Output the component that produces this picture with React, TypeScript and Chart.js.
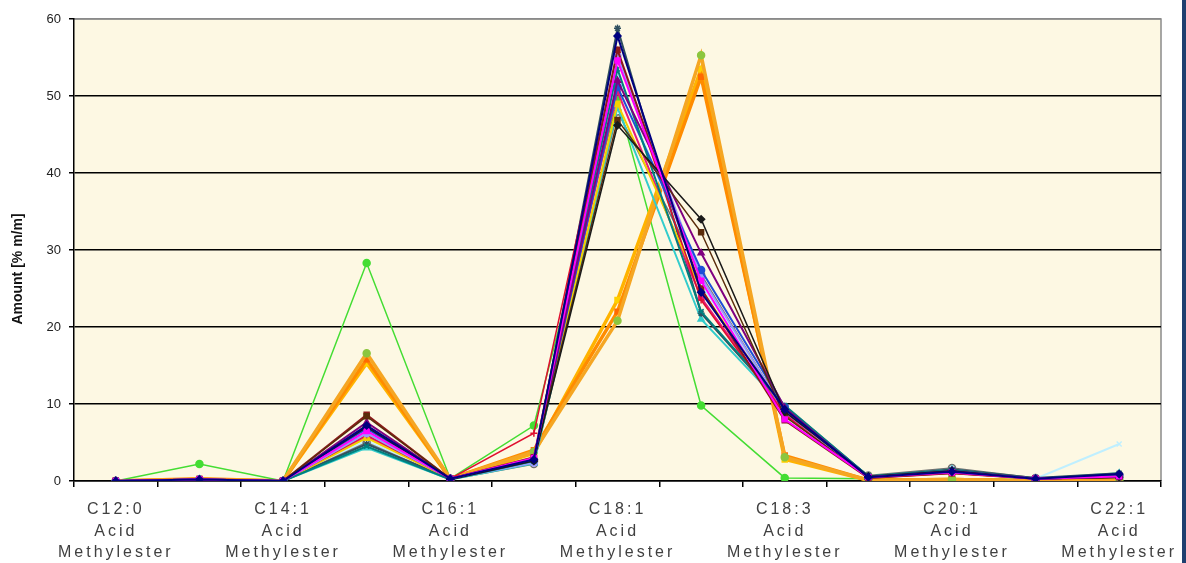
import React, { useEffect, useRef } from 'react';
import { Chart, registerables } from 'chart.js';

Chart.register(...registerables);

// ---------- data ----------
const categories = ['C12:0', 'C14:0', 'C14:1', 'C16:0', 'C16:1', 'C18:0', 'C18:1', 'C18:2', 'C18:3', 'C20:0', 'C20:1', 'C22:0', 'C22:1'];
const labelSuffix = ['Acid', 'Methylester'];
const yTicks = [0, 10, 20, 30, 40, 50, 60];
const yTitle = 'Amount [% m/m]';

const sample01 = [0, 0.2, 0, 7.2, 0.3, 2.8, 57.8, 24.5, 9.3, 0.5, 1.2, 0.3, 0.9];
const sample02 = [0, 0.2, 0, 6.5, 0.3, 3.0, 54.6, 26.0, 8.0, 0.5, 1.1, 0.3, 0.6];
const sample03 = [0, 0.1, 0, 7.0, 0.2, 2.6, 46.2, 34.0, 9.0, 0.6, 1.3, 0.3, 0.5];
const sample04 = [0, 0.1, 0, 8.4, 0.3, 3.0, 46.9, 32.3, 8.4, 0.5, 1.2, 0.3, 0.5];
const sample05 = [0, 0.2, 0, 7.6, 0.3, 2.9, 52.0, 29.6, 9.5, 0.5, 1.3, 0.3, 0.6];
const sample06 = [0, 0.2, 0, 8.6, 0.3, 3.1, 56.0, 25.0, 7.9, 0.4, 1.0, 0.3, 0.5];
const sample07 = [0, 0.2, 0, 4.5, 0.2, 2.6, 53.5, 22.0, 9.8, 0.6, 1.4, 0.3, 0.8];
const sample08 = [0, 0.2, 0, 6.8, 0.3, 2.7, 51.2, 27.4, 9.6, 0.5, 1.3, 0.3, 0.7];
const sample09 = [0, 0.2, 0, 6.2, 0.3, 2.4, 55.2, 26.5, 9.0, 0.5, 1.2, 0.3, 0.6];
const sample10 = [0, 0.3, 0, 6.0, 0.3, 6.2, 55.6, 23.5, 8.6, 0.4, 1.0, 0.3, 0.5];
const sample11 = [0, 0.2, 0, 5.6, 0.3, 2.8, 49.0, 24.8, 9.2, 0.5, 1.1, 0.3, 0.5];
const sample12 = [0, 0.2, 0, 5.8, 0.3, 2.9, 50.6, 23.8, 8.8, 0.5, 1.1, 0.3, 0.5];
const sample13 = [0, 0.2, 0, 4.8, 0.3, 2.5, 58.8, 21.8, 9.7, 0.6, 1.5, 0.4, 1.0];
const sample14 = [0, 0.2, 0, 4.3, 0.2, 2.3, 48.5, 21.0, 9.5, 0.6, 1.5, 0.3, 1.0];
const sample15 = [0, 0.1, 0, 5.0, 0.2, 2.2, 48.0, 26.8, 9.0, 0.7, 1.7, 0.4, 0.8];
const sample16 = [0, 0.1, 0, 5.2, 0.2, 2.4, 52.5, 25.5, 9.3, 0.5, 1.3, 0.3, 4.8];
const sample17 = [0, 0.2, 0, 16.6, 0.3, 3.8, 20.8, 55.3, 3.1, 0.1, 0.2, 0, 0];
const sample18 = [0, 0.3, 0, 15.8, 0.3, 4.0, 22.0, 52.5, 3.3, 0.1, 0.2, 0, 0];
const sample19 = [0, 0.2, 0, 15.3, 0.3, 3.6, 23.5, 53.5, 2.8, 0.1, 0.2, 0, 0];
const sample20 = [0, 2.2, 0, 28.3, 0.3, 7.2, 49.5, 9.8, 0.4, 0.3, 0.3, 0.2, 0.2];

const seriesValues = [
  sample01, sample02, sample03, sample04, sample05, sample06, sample07, sample08, sample09, sample10,
  sample11, sample12, sample13, sample14, sample15, sample16, sample17, sample18, sample19, sample20,
];

// ---------- styles ----------
const seriesStyles = [
  { line: '#000080', fill: '#000080', shape: 'rectRot', width: 2 },
  { line: '#FF00FF', fill: '#FF00FF', shape: 'rect', width: 2 },
  { line: '#1a1a1a', fill: '#1a1a1a', shape: 'rectRot', width: 1.5 },
  { line: '#5a2d0c', fill: '#5a2d0c', shape: 'rect', width: 1.5 },
  { line: '#800080', fill: '#800080', shape: 'triangle', width: 2 },
  { line: '#8B1A1A', fill: '#8B1A1A', shape: 'rect', width: 2 },
  { line: '#008080', fill: '#008080', shape: 'crossRot', width: 2 },
  { line: '#1E4FD8', fill: '#1E4FD8', shape: 'circle', width: 2 },
  { line: '#9999FF', fill: '#9999FF', shape: 'circle', width: 2 },
  { line: '#E0102F', fill: '#E0102F', shape: 'cross', width: 1.5 },
  { line: '#F2D000', fill: '#F2D000', shape: 'rect', width: 2 },
  { line: '#E6197D', fill: '#E6197D', shape: 'rect', width: 2 },
  { line: '#2F4F5F', fill: '#2F4F5F', shape: 'star', width: 2 },
  { line: '#33CCCC', fill: '#33CCCC', shape: 'triangle', width: 2 },
  { line: '#707070', fill: '#FFFFFF', shape: 'circle', width: 1.5 },
  { line: '#BFEFFF', fill: '#BFEFFF', shape: 'crossRot', width: 2 },
  { line: '#F5A623', fill: '#8CC63F', shape: 'circle', width: 3.5 },
  { line: '#FF8C00', fill: '#FF6A00', shape: 'rect', width: 3.5 },
  { line: '#FFB300', fill: '#FFD000', shape: 'rect', width: 3.5 },
  { line: '#44DD33', fill: '#44DD33', shape: 'circle', width: 1.5 },
];

const PLOT_BG = '#FDF8E3';
const FONT = 'Arial, "Liberation Sans", sans-serif';

const plotPlugin = {
  id: 'plotDecor',
  beforeDraw(chart: any) {
    const { ctx, chartArea } = chart;
    ctx.save();
    ctx.fillStyle = PLOT_BG;
    ctx.fillRect(chartArea.left, chartArea.top, chartArea.right - chartArea.left, chartArea.bottom - chartArea.top);
    ctx.strokeStyle = '#8a8a8a';
    ctx.lineWidth = 1.5;
    ctx.beginPath();
    ctx.moveTo(chartArea.left, chartArea.top);
    ctx.lineTo(chartArea.right, chartArea.top);
    ctx.lineTo(chartArea.right, chartArea.bottom);
    ctx.stroke();
    ctx.restore();
    ctx.letterSpacing = '0px';
  },
  afterDatasetsDraw(chart: any) {
    chart.ctx.letterSpacing = '3px';
  },
  afterDraw(chart: any) {
    const ctx = chart.ctx;
    ctx.letterSpacing = '0px';
    ctx.save();
    // y-axis title
    ctx.translate(18, 269);
    ctx.rotate(-Math.PI / 2);
    ctx.font = 'bold 14px ' + FONT;
    ctx.fillStyle = '#111';
    ctx.textAlign = 'center';
    ctx.textBaseline = 'middle';
    ctx.fillText(yTitle, 0, 0);
    ctx.restore();
    ctx.save();
    ctx.fillStyle = '#1F3F6F';
    ctx.fillRect(chart.width - 4, 0, 4, chart.height);
    ctx.restore();
  },
};

export default function App() {
  const ref = useRef<HTMLCanvasElement | null>(null);

  useEffect(() => {
    document.body.style.margin = '0';
    const canvas = ref.current;
    if (!canvas) return;

    const datasets = seriesValues.map((values, i) => {
      const st = seriesStyles[i];
      return {
        label: 'Sample ' + (i + 1),
        data: values,
        borderColor: st.line,
        backgroundColor: st.fill,
        borderWidth: st.width,
        pointStyle: st.shape,
        pointRadius: 3.5,
        pointBorderColor: st.fill === '#FFFFFF' ? '#707070' : st.fill,
        pointBackgroundColor: st.fill,
        pointBorderWidth: 1.5,
        tension: 0,
        fill: false,
      };
    });

    const chart = new Chart(canvas, {
      type: 'line',
      data: { labels: categories, datasets },
      plugins: [plotPlugin],
      options: {
        animation: false,
        responsive: false,
        maintainAspectRatio: false,
        layout: { padding: { left: 0, right: 25, top: 19, bottom: 0 } },
        plugins: { legend: { display: false }, tooltip: { enabled: false }, title: { display: false } },
        scales: {
          x: {
            type: 'category',
            offset: true,
            grid: { offset: true, drawOnChartArea: false, drawTicks: true, tickLength: 6, color: '#000', lineWidth: 1.5 },
            border: { color: '#000', width: 1.5 },
            ticks: {
              z: 1,
              autoSkip: false,
              maxRotation: 0,
              minRotation: 0,
              padding: 12,
              color: '#404040',
              font: { family: FONT, size: 16, lineHeight: 1.35 },
              callback: (_v: any, i: number) => (i % 2 === 0 ? [categories[i], ...labelSuffix] : ''),
            },
            afterFit: (s: any) => { s.height = 82; },
          },
          y: {
            min: yTicks[0],
            max: yTicks[yTicks.length - 1],
            afterBuildTicks: (s: any) => { s.ticks = yTicks.map((v) => ({ value: v })); },
            ticks: {
              padding: 8,
              color: '#222',
              font: { family: FONT, size: 13 },
            },
            grid: {
              color: (c: any) => (c.tick && c.tick.value === 60 ? '#8a8a8a' : '#000'),
              tickColor: '#000',
              lineWidth: 1.5,
              tickLength: 5,
            },
            border: { color: '#000', width: 1.5 },
            title: { display: false },
            afterFit: (s: any) => { s.width = 74; },
          },
        },
      } as any,
    });

    return () => chart.destroy();
  }, []);

  return (
    <div style={{ width: 1186, height: 563, background: '#fff' }}>
      <canvas ref={ref} width={1186} height={563} style={{ display: 'block', width: 1186, height: 563 }} />
    </div>
  );
}
